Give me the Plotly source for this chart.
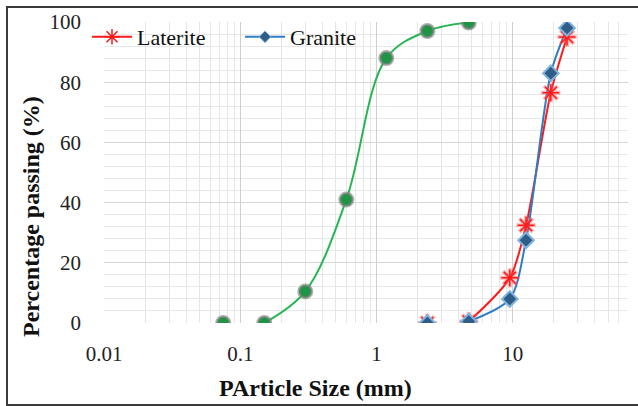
import plotly.graph_objects as go
import math

# ---- data ----
fine_size = [0.075, 0.15, 0.3, 0.6, 1.18, 2.36, 4.75]
fine_pass = [0, 0, 10.5, 41, 88, 97, 99.8]

coarse_size = [2.36, 4.75, 9.5, 12.5, 19, 25]
laterite_pass = [0, 0.5, 15, 32.5, 76.5, 95]
granite_pass = [0, 0.5, 8, 27.5, 83, 98]

x_tickvals = [0.01, 0.1, 1, 10]
x_ticktext = ["0.01", "0.1", "1", "10"]
y_tickvals = [0, 20, 40, 60, 80, 100]

x_title = "PArticle Size (mm)"
y_title = "Percentage passing (%)"

FONT = "'Liberation Serif', 'Times New Roman', Times, serif"
RED = "#ff1a1a"
BLUE = "#2e7cc4"
GREEN = "#27b554"

fig = go.Figure()

# fine aggregate (green) - first point unconnected
fig.add_trace(go.Scatter(
    x=fine_size[1:], y=fine_pass[1:], mode="lines",
    line=dict(color=GREEN, width=2, shape="spline", smoothing=1.0),
    showlegend=False, hoverinfo="skip"))
fig.add_trace(go.Scatter(
    x=fine_size, y=fine_pass, mode="markers",
    marker=dict(symbol="circle", size=13, color="#1f9444",
                line=dict(color="rgba(130,130,130,0.65)", width=3)),
    showlegend=False))

# laterite / granite lines (first point unconnected)
fig.add_trace(go.Scatter(
    x=coarse_size[1:], y=laterite_pass[1:], mode="lines",
    line=dict(color=RED, width=2, shape="spline", smoothing=0.8),
    showlegend=False, hoverinfo="skip"))
fig.add_trace(go.Scatter(
    x=coarse_size[1:], y=granite_pass[1:], mode="lines",
    line=dict(color=BLUE, width=2, shape="spline", smoothing=0.8),
    showlegend=False, hoverinfo="skip"))

fig.add_trace(go.Scatter(
    x=coarse_size, y=laterite_pass, mode="markers",
    marker=dict(symbol="asterisk-open", size=16, color="rgba(255,90,90,0.45)",
                line=dict(color="rgba(255,90,90,0.45)", width=4)),
    showlegend=False, hoverinfo="skip"))
fig.add_trace(go.Scatter(
    x=coarse_size, y=laterite_pass, mode="markers",
    name="Laterite",
    marker=dict(symbol="asterisk-open", size=14, color=RED,
                line=dict(color=RED, width=1.5)),
    showlegend=False))
fig.add_trace(go.Scatter(
    x=coarse_size, y=granite_pass, mode="markers",
    name="Granite",
    marker=dict(symbol="diamond", size=12, color="#2f5d86",
                line=dict(color="#7fb3e0", width=2)),
    showlegend=False))

# legend entries (lines + markers)
fig.add_trace(go.Scatter(
    x=[None], y=[None], mode="lines+markers", name="Laterite",
    line=dict(color=RED, width=2),
    marker=dict(symbol="asterisk-open", size=13, color=RED, line=dict(color=RED, width=1.5))))
fig.add_trace(go.Scatter(
    x=[None], y=[None], mode="lines+markers", name="Granite",
    line=dict(color=BLUE, width=2),
    marker=dict(symbol="diamond", size=9, color="#2f5d86",
                line=dict(color="#7fb3e0", width=1))))

L, R, T, B = 104, 10, 22, 83
W, H = 638, 406
pw, ph = W - L - R, H - T - B

fig.update_layout(
    width=W, height=H,
    margin=dict(l=L, r=R, t=T, b=B, autoexpand=False),
    paper_bgcolor="white", plot_bgcolor="white",
    font=dict(family=FONT, size=21, color="#222"),
    legend=dict(orientation="h", x=(87 - L) / pw, y=1.02, xanchor="left", yanchor="top",
                bgcolor="rgba(0,0,0,0)", font=dict(family=FONT, size=22, color="#111"),
                entrywidth=98, entrywidthmode="pixels",
                itemwidth=40, tracegroupgap=0),
    showlegend=True,
)

fig.update_xaxes(
    type="log", range=[-2, math.log10(70)],
    tickvals=x_tickvals, ticktext=x_ticktext,
    showgrid=True, gridcolor="#cfcfcf", gridwidth=1,
    minor=dict(showgrid=True, gridcolor="#e6e6e6", dtick="D1", gridwidth=1),
    zeroline=False, showline=False, ticks="",
    ticklabelstandoff=16,
    tickfont=dict(family=FONT, size=21, color="#222"),
)
fig.update_yaxes(
    range=[0, 100], tickvals=y_tickvals,
    showgrid=True, gridcolor="#d6d6d6", gridwidth=1,
    minor=dict(showgrid=True, gridcolor="#e8e8e8", dtick=4),
    zeroline=False, showline=False, ticks="",
    ticklabelstandoff=22,
    tickfont=dict(family=FONT, size=21, color="#222"),
)

# axis titles (placed like the original, off-centre)
fig.add_annotation(text="<b>" + x_title + "</b>", xref="paper", yref="paper",
                   x=(315 - L) / pw, y=(H - B - 388) / ph, xanchor="center", yanchor="middle",
                   showarrow=False, font=dict(family=FONT, size=24, color="#111"))
fig.add_annotation(text="<b>" + y_title + "</b>", xref="paper", yref="paper",
                   x=(31 - L) / pw, y=(H - B - 217) / ph, xanchor="center", yanchor="middle",
                   textangle=-90, showarrow=False, font=dict(family=FONT, size=24, color="#111"))

# outer frame of the chart
fig.add_shape(type="rect", xref="paper", yref="paper",
              x0=(7 - L) / pw, x1=(720 - L) / pw,
              y0=(H - B - 405) / ph, y1=(H - B - 7) / ph,
              line=dict(color="#3a3a3a", width=2), fillcolor="rgba(0,0,0,0)", layer="above")

fig.write_html("out.html", config={"displayModeBar": False},
               post_script="document.body.style.margin='0';document.body.style.overflow='hidden';")
